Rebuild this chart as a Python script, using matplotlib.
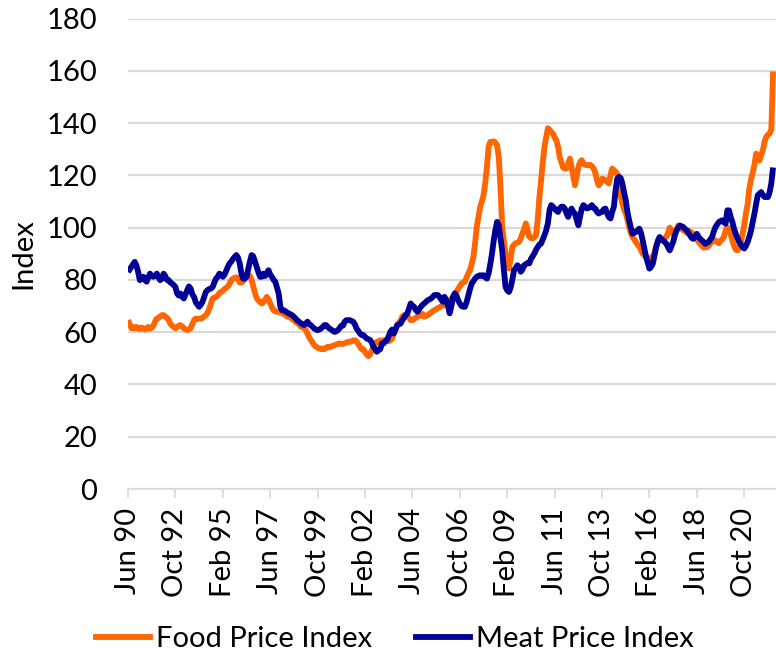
import matplotlib
matplotlib.use("Agg")
import matplotlib.pyplot as plt
from matplotlib.lines import Line2D

plt.rcParams['font.family'] = ['Lato', 'DejaVu Sans']

# Monthly values, Jun 1990 .. Mar 2022
food_price_index = [
    64.6, 63.0, 61.5, 62.0, 61.5, 62.0, 61.5,                                # 1990 Jun-Dec
    61.2, 61.8, 61.5, 61.0, 61.5, 62.0, 61.3, 61.7, 62.5, 64.0, 65.2, 65.5,  # 1991
    66.0, 66.5, 66.5, 66.0, 65.5, 64.6, 63.3, 62.5, 62.0, 61.5, 62.0, 62.5,  # 1992
    62.7, 62.2, 61.5, 61.0, 60.8, 61.0, 61.5, 63.0, 64.6, 65.2, 65.0, 65.2,  # 1993
    65.2, 65.5, 66.0, 66.5, 67.5, 69.0, 71.0, 72.9, 73.2, 73.5, 74.0, 75.0,  # 1994
    75.4, 75.8, 76.5, 77.0, 77.5, 78.5, 79.9, 80.5, 80.8, 81.0, 80.5, 79.0,  # 1995
    79.0, 79.5, 80.5, 81.5, 81.8, 81.5, 80.0, 77.5, 75.0, 73.0, 72.2, 71.5,  # 1996
    71.0, 71.5, 72.5, 73.5, 72.5, 71.0, 69.5, 68.4, 68.0, 67.8, 67.8, 67.5,  # 1997
    67.5, 67.0, 66.5, 66.0, 65.9, 65.5, 65.0, 64.5, 64.0, 63.5, 63.0, 62.1,  # 1998
    62.0, 61.5, 60.8, 59.5, 58.0, 57.0, 56.0, 55.0, 54.5, 54.0, 53.8, 53.5,  # 1999
    53.8, 53.5, 54.0, 54.4, 54.2, 54.5, 54.8, 55.0, 55.3, 55.5, 55.7, 55.5,  # 2000
    55.5, 55.8, 56.0, 56.3, 56.3, 56.5, 56.8, 56.9, 56.5, 55.5, 54.4, 53.5,  # 2001
    53.5, 52.5, 51.5, 50.8, 51.5, 53.0, 54.5, 55.5, 56.3, 56.5, 56.9, 56.5,  # 2002
    56.9, 57.0, 56.8, 56.5, 57.0, 57.5, 59.5, 61.0, 62.7, 63.5, 64.5, 65.9,  # 2003
    66.5, 66.5, 66.0, 65.5, 64.6, 64.6, 65.0, 65.5, 66.0, 66.2, 66.5, 67.0,  # 2004
    65.9, 66.2, 66.5, 67.0, 67.5, 68.0, 68.4, 68.8, 69.2, 69.5, 70.0, 70.3,  # 2005
    70.3, 70.8, 71.5, 72.2, 72.8, 73.5, 74.8, 75.5, 76.5, 77.5, 78.6, 79.0,  # 2006
    79.3, 81.0, 82.5, 83.7, 86.0, 88.8, 94.0, 100.3, 104.0, 107.9, 110.0, 112.4,  # 2007
    117.0, 123.2, 130.9, 132.8, 132.8, 133.0, 132.5, 131.5, 127.0, 115.6, 100.3, 95.0,  # 2008
    90.1, 87.0, 84.4, 88.0, 92.6, 93.5, 94.0, 94.3, 94.6, 96.0, 97.8, 99.5,  # 2009
    101.6, 99.0, 96.5, 96.0, 95.8, 96.4, 97.1, 103.0, 111.7, 118.0, 125.0, 131.0,  # 2010
    134.6, 138.0, 137.5, 136.5, 136.0, 134.5, 133.4, 131.0, 127.0, 125.0, 123.0, 122.6,  # 2011
    122.6, 124.5, 126.4, 123.0, 119.4, 116.2, 119.5, 123.2, 125.0, 125.8, 124.5, 124.0,  # 2012
    123.9, 123.9, 124.0, 123.5, 122.6, 121.0, 118.1, 116.2, 117.0, 118.7, 118.5, 118.1,  # 2013
    117.5, 116.9, 120.0, 122.6, 122.0, 121.3, 120.5, 119.4, 112.0, 109.2, 107.0, 105.4,  # 2014
    103.0, 100.3, 98.0, 96.4, 95.5, 94.5, 93.5, 92.6, 91.5, 90.0, 89.5, 88.8,  # 2015
    88.5, 87.5, 88.0, 89.0, 90.5, 93.0, 94.5, 95.0, 95.5, 95.7, 96.0, 96.5,  # 2016
    98.0, 100.0, 99.0, 97.5, 98.5, 99.0, 100.8, 100.5, 99.5, 99.0, 98.9, 98.0,  # 2017
    98.9, 98.5, 98.0, 97.5, 97.0, 96.0, 94.5, 93.8, 93.0, 92.3, 92.5, 92.5,  # 2018
    93.0, 94.0, 94.5, 95.1, 95.1, 94.5, 94.0, 95.0, 95.5, 96.5, 99.0, 100.0,  # 2019
    99.6, 97.5, 95.0, 93.0, 91.5, 91.3, 92.0, 94.5, 97.5, 101.0, 105.5, 109.0,  # 2020
    115.0, 118.5, 121.0, 124.0, 128.3, 126.0, 125.7, 128.0, 129.5, 133.0, 134.7, 135.5,  # 2021
    136.0, 137.5, 159.7,                                                      # 2022 Jan-Mar
]

meat_price_index = [
    83.0, 84.0, 85.0, 86.0, 86.9, 85.5, 83.0,                                # 1990 Jun-Dec
    79.9, 80.5, 81.2, 80.0, 79.3, 81.0, 82.4, 81.5, 81.2, 81.5, 82.4, 81.0,  # 1991
    79.9, 80.5, 82.4, 81.5, 80.0, 79.9, 79.0, 78.6, 78.0, 77.3, 74.8, 74.0,  # 1992
    74.8, 73.5, 72.9, 74.5, 76.1, 77.5, 76.7, 74.5, 73.5, 71.5, 70.5, 69.7,  # 1993
    70.5, 71.6, 73.5, 75.4, 76.1, 76.5, 76.7, 77.3, 79.0, 80.5, 81.2, 82.4,  # 1994
    82.0, 81.2, 82.0, 83.5, 85.0, 86.3, 87.0, 88.0, 88.8, 89.5, 88.5, 86.3,  # 1995
    82.4, 80.5, 80.5, 81.2, 84.0, 87.0, 89.5, 89.0, 87.0, 85.0, 83.0, 81.2,  # 1996
    81.2, 82.4, 81.5, 82.5, 83.7, 82.0, 81.2, 80.0, 79.3, 77.0, 74.8, 69.7,  # 1997
    68.4, 68.4, 68.0, 67.5, 67.2, 66.8, 66.5, 65.9, 65.2, 64.5, 64.0, 63.5,  # 1998
    63.0, 62.7, 63.3, 64.0, 63.0, 62.7, 62.0, 61.4, 61.0, 60.8, 61.0, 61.4,  # 1999
    62.0, 62.7, 62.7, 62.0, 61.4, 61.0, 60.5, 60.1, 60.3, 60.8, 61.5, 62.5,  # 2000
    62.5, 64.0, 64.6, 64.6, 64.6, 64.3, 64.0, 63.0, 61.4, 60.5, 59.5, 58.9,  # 2001
    58.9, 58.2, 57.6, 57.3, 57.0, 56.0, 54.4, 53.5, 52.5, 53.1, 53.5, 55.7,  # 2002
    55.7, 56.5, 57.0, 58.5, 60.2, 61.0, 59.5, 61.0, 62.7, 63.0, 63.3, 64.5,  # 2003
    65.5, 66.5, 67.2, 69.0, 71.0, 70.0, 69.7, 68.5, 67.8, 68.8, 69.7, 70.5,  # 2004
    71.0, 71.6, 72.2, 72.5, 72.9, 73.5, 74.2, 74.2, 74.2, 73.5, 72.5, 71.6,  # 2005
    73.5, 72.2, 70.0, 67.2, 70.0, 73.5, 74.8, 74.0, 72.2, 71.0, 70.0, 69.7,  # 2006
    69.7, 71.5, 74.0, 76.5, 78.6, 79.5, 80.5, 81.2, 81.5, 81.8, 81.5, 81.8,  # 2007
    81.0, 80.5, 82.5, 86.0, 90.0, 95.0, 99.0, 102.2, 101.0, 96.0, 91.4, 84.0,  # 2008
    77.3, 76.0, 75.4, 77.0, 80.0, 83.7, 84.5, 85.6, 85.0, 83.1, 84.0, 85.6,  # 2009
    86.0, 86.5, 86.3, 88.0, 89.0, 90.1, 91.5, 92.6, 93.5, 93.9, 95.5, 97.1,  # 2010
    99.0, 101.6, 106.7, 108.6, 108.0, 107.3, 106.5, 106.0, 107.3, 108.0, 108.0, 107.3,  # 2011
    105.5, 104.1, 106.0, 107.3, 106.0, 105.4, 103.0, 100.9, 104.0, 107.3, 108.6, 108.0,  # 2012
    107.3, 107.5, 108.0, 108.6, 107.5, 107.3, 106.0, 105.4, 105.8, 106.0, 107.0, 107.3,  # 2013
    105.5, 104.0, 103.5, 106.0, 108.0, 114.3, 118.7, 119.4, 119.0, 116.9, 113.5, 110.5,  # 2014
    106.0, 102.8, 100.0, 97.7, 98.0, 98.3, 99.0, 99.6, 98.0, 95.1, 92.0, 88.8,  # 2015
    86.5, 84.3, 85.0, 86.2, 89.5, 92.6, 95.0, 96.4, 95.5, 95.1, 94.5, 93.8,  # 2016
    92.5, 91.3, 93.0, 94.5, 97.0, 98.9, 100.0, 100.8, 100.5, 100.2, 99.5, 98.9,  # 2017
    98.0, 97.0, 96.0, 95.7, 96.5, 97.6, 96.5, 95.7, 95.1, 94.5, 93.8, 94.2,  # 2018
    94.5, 95.5, 96.4, 98.5, 100.2, 101.2, 102.1, 102.5, 102.8, 102.0, 101.5, 106.6,  # 2019
    106.6, 104.0, 102.1, 99.5, 97.6, 96.0, 94.5, 93.5, 92.6, 92.0, 93.0, 94.5,  # 2020
    96.5, 98.9, 102.0, 105.3, 109.0, 112.4, 113.0, 113.6, 112.5, 111.7, 111.7, 111.7,  # 2021
    113.6, 117.0, 123.0,                                                      # 2022 Jan-Mar
]

tick_labels = ['Jun 90', 'Oct 92', 'Feb 95', 'Jun 97', 'Oct 99', 'Feb 02', 'Jun 04',
               'Oct 06', 'Feb 09', 'Jun 11', 'Oct 13', 'Feb 16', 'Jun 18', 'Oct 20']
tick_step_months = 28
series_names = ['Food Price Index', 'Meat Price Index']

FOOD_C = '#FF6600'
MEAT_C = '#000096'
GRID_C = '#D9D9D9'
FS = 21

months = list(range(len(food_price_index)))

fig = plt.figure(figsize=(7.76, 6.53), dpi=100)
W, H = 776, 653
ax = fig.add_axes([128 / W, (H - 489) / H, 648 / W, (489 - 18.5) / H])

ax.plot(months, food_price_index, color=FOOD_C, lw=4.2, solid_capstyle='butt',
        solid_joinstyle='round', zorder=3)
ax.plot(months, meat_price_index, color=MEAT_C, lw=4.2, solid_capstyle='butt',
        solid_joinstyle='round', zorder=4)

ax.set_ylim(0, 180)
ax.set_xlim(0, 648 / 1.693)
ax.set_yticks(range(0, 181, 20))
ax.yaxis.grid(True, color=GRID_C, lw=1.6, zorder=0)
ax.set_axisbelow(True)

ax.set_xticks([i * tick_step_months for i in range(len(tick_labels))])
ax.set_xticklabels(tick_labels, rotation=90, fontsize=FS)
ax.tick_params(axis='x', direction='out', length=6.5, width=1.2, color=GRID_C, pad=7)
ax.tick_params(axis='y', length=0, pad=22, labelsize=FS)

for s in ['top', 'right', 'left']:
    ax.spines[s].set_visible(False)
ax.spines['bottom'].set_color(GRID_C)
ax.spines['bottom'].set_linewidth(1.2)
ax.spines['bottom'].set_zorder(1)

fig.text(23 / W, 1 - 254 / H, 'Index', rotation=90, ha='center', va='center', fontsize=FS)

handles = [Line2D([], [], color=FOOD_C, lw=4.2), Line2D([], [], color=MEAT_C, lw=4.2)]
fig.legend(handles, series_names, loc='center', bbox_to_anchor=(395 / W, (H - 639) / H),
           ncol=2, frameon=False, fontsize=FS, handlelength=1.85, handletextpad=0.2,
           columnspacing=1.5)

fig.savefig('out.png', dpi=100)
